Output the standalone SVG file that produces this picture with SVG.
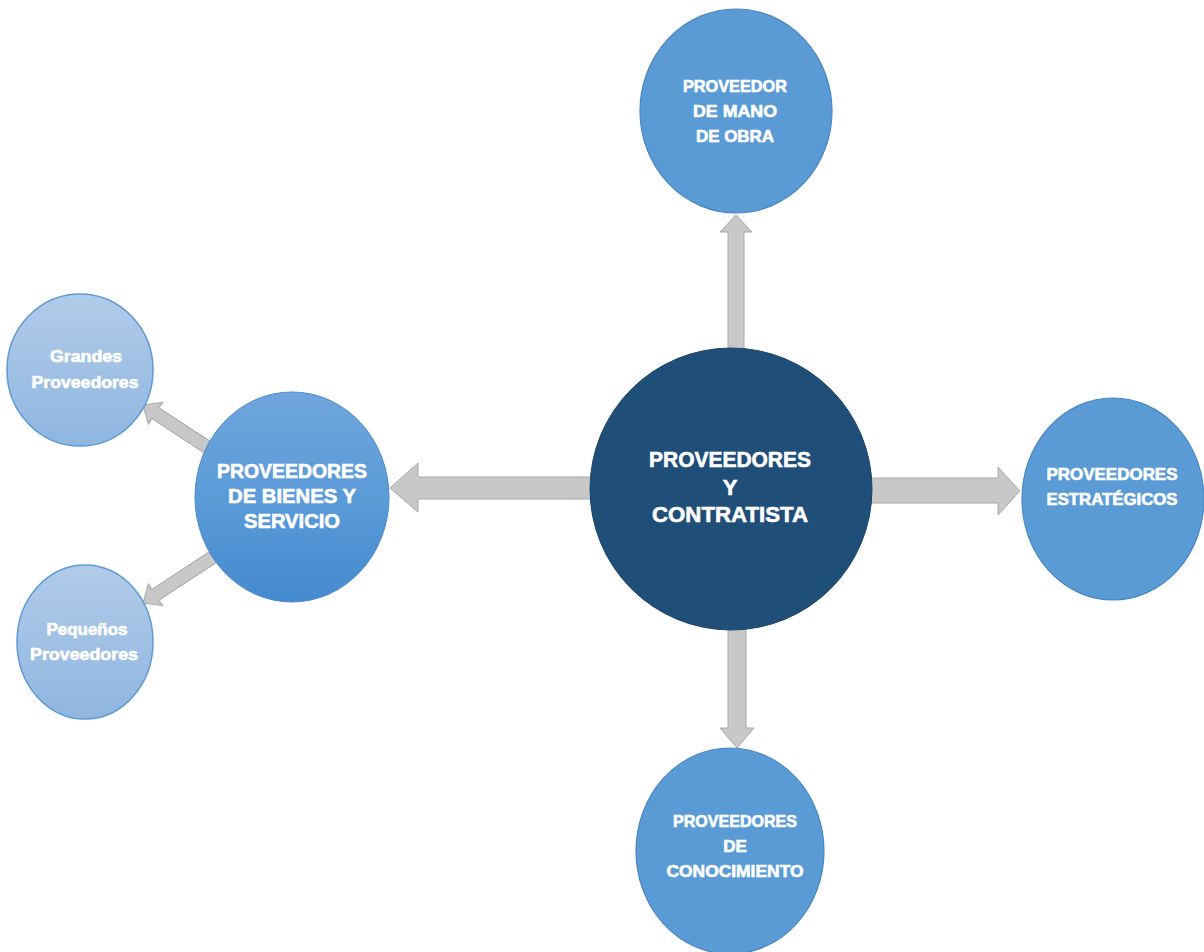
<svg xmlns="http://www.w3.org/2000/svg" width="1204" height="952" viewBox="0 0 1204 952">
<defs>
<linearGradient id="gBien" x1="0" y1="0" x2="0" y2="1">
<stop offset="0" stop-color="#6fa5dc"/>
<stop offset="0.5" stop-color="#5b9bd8"/>
<stop offset="1" stop-color="#448ace"/>
</linearGradient>
<linearGradient id="gSmall" x1="0" y1="0" x2="0" y2="1">
<stop offset="0" stop-color="#b1cbe9"/>
<stop offset="1" stop-color="#8fb6e0"/>
</linearGradient>
<style>
.arrow{fill:#c8c8c8;stroke:#a8a8a8;stroke-width:1}
.blue{fill:#5b9bd5;stroke:#4a86c2;stroke-width:1.2}
.center{fill:#1f4e79;stroke:#1a4468;stroke-width:1}
.bien{fill:url(#gBien);stroke:#4a8ad0;stroke-width:1}
.small{fill:url(#gSmall);stroke:#5b9bd5;stroke-width:1.5}
text{font-family:"Liberation Sans",Arial,sans-serif;font-weight:bold;fill:#ffffff;stroke:#ffffff;stroke-width:0.6;text-anchor:middle}
.t22{font-size:22px}
.t20{font-size:20px}
.t17{font-size:17px}
.t16{font-size:16px}
</style>
</defs>
<rect width="1204" height="952" fill="#ffffff"/>
<g id="connectors">
<polygon class="arrow" points="736,215 752,232 744,232 744,350 728,350 728,232 720,232"/>
<polygon class="arrow" points="737,748 754,728 746,728 746,625 728,625 728,728 720,728"/>
<polygon class="arrow" points="1020,491 998,467 998,478 870,478 870,503 998,503 998,515"/>
<polygon class="arrow" points="390,488 418,463 418,477 592,477 592,499 418,499 418,512"/>
<polygon class="arrow" transform="translate(143,405) rotate(-146.7)" points="0,0 -15,-13 -15,-6.5 -80,-6.5 -80,6.5 -15,6.5 -15,13"/>
<polygon class="arrow" transform="translate(143,603) rotate(146.7)" points="0,0 -15,-13 -15,-6.5 -86,-6.5 -86,6.5 -15,6.5 -15,13"/>
</g>
<g id="node-center">
<circle class="center" cx="731" cy="489" r="141"/>
<text class="t22" x="730" y="467" textLength="162" lengthAdjust="spacingAndGlyphs">PROVEEDORES</text>
<text class="t22" x="730" y="495">Y</text>
<text class="t22" x="730" y="522" textLength="156" lengthAdjust="spacingAndGlyphs">CONTRATISTA</text>
</g>
<g id="node-mano-obra">
<ellipse class="blue" cx="736" cy="111" rx="96" ry="102"/>
<text class="t17" x="735" y="92" textLength="104" lengthAdjust="spacingAndGlyphs">PROVEEDOR</text>
<text class="t17" x="735" y="117" textLength="84" lengthAdjust="spacingAndGlyphs">DE MANO</text>
<text class="t17" x="735" y="142" textLength="78" lengthAdjust="spacingAndGlyphs">DE OBRA</text>
</g>
<g id="node-conocimiento">
<ellipse class="blue" cx="730" cy="851" rx="94" ry="103"/>
<text class="t17" x="735" y="827" textLength="124" lengthAdjust="spacingAndGlyphs">PROVEEDORES</text>
<text class="t17" x="735" y="852">DE</text>
<text class="t17" x="735" y="877" textLength="137" lengthAdjust="spacingAndGlyphs">CONOCIMIENTO</text>
</g>
<g id="node-estrategicos">
<ellipse class="blue" cx="1113" cy="499" rx="91" ry="101"/>
<text class="t17" x="1112" y="480" textLength="131" lengthAdjust="spacingAndGlyphs">PROVEEDORES</text>
<text class="t17" x="1112" y="505" textLength="131" lengthAdjust="spacingAndGlyphs">ESTRATÉGICOS</text>
</g>
<g id="node-bienes">
<ellipse class="bien" cx="292" cy="497" rx="97" ry="105"/>
<text class="t20" x="292" y="478" textLength="150" lengthAdjust="spacingAndGlyphs">PROVEEDORES</text>
<text class="t20" x="292" y="503" textLength="128" lengthAdjust="spacingAndGlyphs">DE BIENES Y</text>
<text class="t20" x="292" y="528" textLength="96" lengthAdjust="spacingAndGlyphs">SERVICIO</text>
</g>
<g id="node-grandes">
<ellipse class="small" cx="80" cy="370" rx="73" ry="76"/>
<text class="t16" x="86" y="362" textLength="72" lengthAdjust="spacingAndGlyphs">Grandes</text>
<text class="t16" x="85" y="388" textLength="107" lengthAdjust="spacingAndGlyphs">Proveedores</text>
</g>
<g id="node-pequenos">
<ellipse class="small" cx="85" cy="642" rx="68" ry="77"/>
<text class="t16" x="87" y="635" textLength="81" lengthAdjust="spacingAndGlyphs">Pequeños</text>
<text class="t16" x="84" y="660" textLength="108" lengthAdjust="spacingAndGlyphs">Proveedores</text>
</g>
</svg>
